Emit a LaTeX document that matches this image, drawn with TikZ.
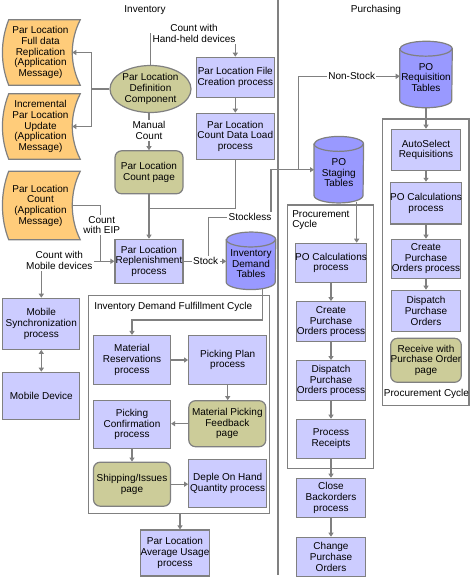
\documentclass[tikz,border=0pt]{standalone}
\usepackage{fontspec}
\setmainfont{Liberation Sans}
\usetikzlibrary{arrows.meta,backgrounds,calc,shapes.geometric}
\definecolor{lav}{HTML}{CCCCFF}
\definecolor{cylc}{HTML}{9999FF}
\definecolor{olivec}{HTML}{CCCC99}
\definecolor{docc}{HTML}{FFCC7A}
\definecolor{lg}{HTML}{808080}
\newcommand\cylsh[2]{%
  \path[fill=cylc,draw=lg,line width=0.9pt] ([yshift=-1.1pt]#1.north west) -- ([yshift=5.6pt]#1.south west)
    arc[start angle=180,end angle=360,x radius=#2,y radius=5.6pt]
    -- ([yshift=-1.1pt]#1.north east)
    arc[start angle=0,end angle=180,x radius=#2,y radius=5.6pt] -- cycle;
  \draw[lg,line width=0.9pt] ([yshift=-1.1pt]#1.north west) arc[start angle=180,end angle=360,x radius=#2,y radius=5.6pt];}
\newcommand\docsh[1]{%
  \path[fill=docc,draw=lg,line width=0.9pt] (#1.north west) -- ([xshift=6pt]#1.north east)
    .. controls ([xshift=-2pt,yshift=-16pt]#1.north east) and ([xshift=-2pt,yshift=16pt]#1.south east) .. ([xshift=6pt]#1.south east)
    -- (#1.south west)
    .. controls ([xshift=-6.3pt,yshift=16pt]#1.south west) and ([xshift=-6.3pt,yshift=-16pt]#1.north west) .. (#1.north west) -- cycle;}
\tikzset{
  base/.style={font=\fontsize{7.5}{8}\selectfont, align=center, inner sep=0pt},
  proc/.style 2 args={base, rectangle, draw=lg, line width=0.9pt, fill=lav, minimum width=#1*0.75pt, minimum height=#2*0.75pt},
  pagebox/.style 2 args={proc={#1}{#2}, fill=olivec, rounded corners=5pt},
  docbox/.style={base, minimum width=63*0.75pt, minimum height=#1*0.75pt},
  cylbox/.style 2 args={base, minimum width=#1*0.75pt, minimum height=#2*0.75pt},
  framebox/.style 2 args={rectangle, draw=lg, line width=0.9pt, fill=white, minimum width=#1*0.75pt, minimum height=#2*0.75pt, inner sep=0pt},
  lbl/.style={base, fill=white, inner sep=1pt},
  ln/.style={draw=lg, line width=0.8pt},
  arr/.style={ln, -{Triangle[length=3pt,width=3.8pt]}},
  arrtwo/.style={ln, {Triangle[length=3pt,width=3.8pt]}-{Triangle[length=3pt,width=3.8pt]}},
}
\begin{document}
\begin{tikzpicture}[x=0.75pt,y=-0.75pt]
\useasboundingbox (0,0) rectangle (471,578);
% titles and separator
\node[base] (tinv) at (145,10) {Inventory};
\node[base] (tpur) at (376,10) {Purchasing};
\draw[ln] (278,0) -- (278,575);
% frames
\node[framebox={181}{217.6}] (idfc) at (178.8,404.5) {};
\node[base, anchor=west] (idfct) at (94,306.7) {Inventory Demand Fulfillment Cycle};
\node[framebox={86.7}{286.7}] (pcr) at (425.7,262.3) {};
\node[base] (pcrt) at (426.5,394) {Procurement Cycle};
\node[framebox={86.4}{263.3}] (pcl) at (330.5,336.7) {};
\node[base, align=left, anchor=west] (pclt) at (292,220) {Procurement\\Cycle};
% documents
\node[docbox=65] (doc1) at (40.5,52.5) {Par Location\\Full data\\Replication\\(Application\\Message)};
\node[docbox=65] (doc2) at (40.5,126.5) {Incremental\\Par Location\\Update\\(Application\\Message)};
\node[docbox=68] (doc3) at (40.5,205.5) {Par Location\\Count\\(Application\\Message)};
% inventory nodes
\node[base, ellipse, draw=lg, line width=0.9pt, fill=olivec, minimum width=81*0.75pt, minimum height=47*0.75pt] (pld) at (150.5,89) {Par Location\\Definition\\Component};
\node[proc={78}{40}] (fc) at (235.3,77.3) {Par Location File\\Creation process};
\node[proc={78}{46}] (cdl) at (235.3,136.3) {Par Location\\Count Data Load\\process};
\node[pagebox={68}{43}] (cp) at (149,172.3) {Par Location\\Count page};
\node[proc={68}{44}] (rep) at (149,261.3) {Par Location\\Replenishment\\process};
\node[cylbox={49}{51}] (idt) at (251,263.8) {Inventory\\Demand\\Tables};
\node[proc={77}{51}] (ms) at (41.3,323.8) {Mobile\\Synchronization\\process};
\node[proc={77}{47}] (md) at (41.3,395.8) {Mobile Device};
\node[proc={77}{49}] (mr) at (132,360) {Material\\Reservations\\process};
\node[proc={78}{49}] (pp) at (227.7,360) {Picking Plan\\process};
\node[pagebox={77}{46}] (mpf) at (227.3,423.7) {Material Picking\\Feedback\\page};
\node[proc={77}{47.6}] (pc) at (132,424.5) {Picking\\Confirmation\\process};
\node[pagebox={77}{44}] (si) at (132,484.2) {Shipping/Issues\\page};
\node[proc={78}{48}] (dep) at (227.7,483.3) {Deple On Hand\\Quantity process};
\node[proc={68.6}{46}] (avg) at (175,553) {Par Location\\Average Usage\\process};
% purchasing nodes
\node[cylbox={52}{60}] (poreq) at (426,77.5) {PO\\Requisition\\Tables};
\node[proc={69.4}{41.4}] (asr) at (426,150) {AutoSelect\\Requisitions};
\node[proc={69.4}{41.7}] (pocr) at (426,203.2) {PO Calculations\\process};
\node[proc={69.4}{39}] (cpor) at (426,258.8) {Create\\Purchase\\Orders process};
\node[proc={69.4}{41.4}] (dpor) at (426,311) {Dispatch\\Purchase\\Orders};
\node[pagebox={69.4}{44}] (rwpo) at (426,360.3) {Receive with\\Purchase Order\\page};
\node[cylbox={49}{60}] (posg) at (338.8,172.7) {PO\\Staging\\Tables};
\node[proc={69.4}{39}] (pocl) at (331,262.8) {PO Calculations\\process};
\node[proc={69.4}{40}] (cpol) at (331,321.7) {Create\\Purchase\\Orders process};
\node[proc={69.4}{40}] (dpol) at (331,380.7) {Dispatch\\Purchase\\Orders process};
\node[proc={69.4}{39}] (prr) at (331,438.8) {Process\\Receipts};
\node[proc={69.4}{39}] (cbo) at (331,497.8) {Close\\Backorders\\process};
\node[proc={69.4}{39.4}] (cpo) at (331,557) {Change\\Purchase\\Orders};
% background shapes
\begin{scope}[on background layer]
  \docsh{doc1}\docsh{doc2}\docsh{doc3}
  \cylsh{idt}{18.375pt}
  \cylsh{poreq}{19.5pt}
  \cylsh{posg}{18.375pt}
\end{scope}
% coordinates
\coordinate (j1) at (91.7,89);
\coordinate (hh) at (194,33.3);
\coordinate (j3) at (149,208.3);
\coordinate (j4) at (100.7,261.3);
\coordinate (s0) at (208.3,261.3);
\coordinate (s1) at (271,217.3);
\coordinate (n0) at (298.3,169.7);
\coordinate (nt) at (298.3,76.3);
\coordinate (i0) at (262.3,288.5);
\coordinate (i1) at (262.3,320);
\coordinate (f0) at (180,513.3);
\coordinate (p0) at (356.7,202);
% connectors inventory
\draw[ln] (pld.west) -- (j1);
\draw[arr] (j1) |- (doc1.east);
\draw[arr] (j1) |- (doc2.east);
\draw[arr] (pld.north) -- (pld.north |- hh) -| (fc.north);
\draw[arr] (fc.south) -- (cdl.north);
\draw[arr] (pld.south -| cp.north) -- (cp.north);
\draw[arr] (cp.south) -- (rep.north);
\draw[ln] (cdl.south) |- (j3);
\draw[ln, line width=1.4pt] (j3) -- ([yshift=3pt]rep.north);
\draw[ln] (doc3.east) -| (j4);
\draw[arr] (j4) -- (rep.west);
\draw[arr] (j4) -| (ms.north);
\draw[arrtwo] (ms.south) -- (md.north);
\draw[arr] (rep.east) -- (rep.east -| idt.west);
\draw[arr] (s0) |- (s1) |- (n0) -- (n0 -| posg.west);
\draw[arr] (n0) -- (nt) -- (nt -| poreq.west);
\draw[arr] (i0) -- (i1) -| (mr.north);
\draw[arr] (mr.east) -- (pp.west);
\draw[arr] (pp.south) -- (pp.south |- mpf.north);
\draw[arr] (mpf.west) -- (mpf.west -| pc.east);
\draw[arr] (pc.south) -- (pc.south |- si.north);
\draw[arr] (si.east) -- (si.east -| dep.west);
\draw[arr] (f0) -- (f0 |- avg.north);
% connectors purchasing
\draw[arr] (poreq.south) -- (poreq.south |- asr.north);
\draw[arr] (asr.south) -- (pocr.north);
\draw[arr] (pocr.south) -- (cpor.north);
\draw[arr] (cpor.south) -- (dpor.north);
\draw[arr] (p0) -- (p0 |- pocl.north);
\draw[arr] (pocl.south) -- (cpol.north);
\draw[arr] (cpol.south) -- (dpol.north);
\draw[arr] (dpol.south) -- (prr.north);
\draw[arr] (prr.south) -- (cbo.north);
\draw[arr] (cbo.south) -- (cpo.north);
% labels
\node[lbl] (lhh) at (hh) {Count with\\Hand-held devices};
\node[lbl] (lmc) at (149,130.7) {Manual\\Count};
\node[lbl] (leip) at (101.7,225) {Count\\with EIP};
\node[lbl] (lmob) at (59.3,260.3) {Count with\\Mobile devices};
\node[lbl] (lst) at (205.7,261.3) {Stock};
\node[lbl] (lsl) at (250,217.3) {Stockless};
\node[lbl] (lns) at (351.7,76.3) {Non-Stock};
\end{tikzpicture}
\end{document}
